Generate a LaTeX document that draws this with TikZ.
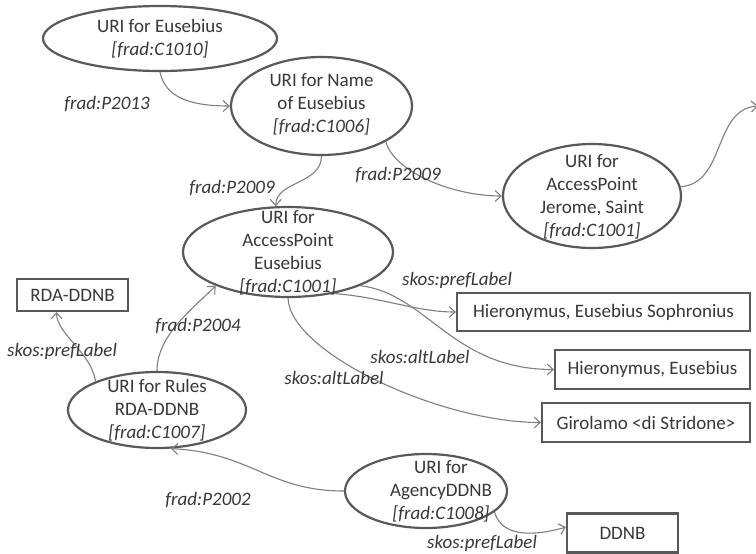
\documentclass[tikz,border=0pt]{standalone}
\usepackage{fontspec}
\setmainfont{Carlito}
\usetikzlibrary{shapes.geometric,arrows.meta}
\definecolor{txtc}{HTML}{383838}
\definecolor{brdc}{HTML}{595959}
\definecolor{conc}{HTML}{7F7F7F}
\begin{document}
\begin{tikzpicture}[x=1pt,y=-1pt,
  ell/.style={draw=brdc, line width=2.2pt, ellipse, inner sep=0pt},
  box/.style={draw=brdc, line width=2.2pt, rectangle, inner sep=0pt, text=txtc, font=\fontsize{19}{23}\selectfont},
  lbl/.style={text=txtc, font=\fontsize{19}{23}\selectfont, align=center, inner sep=0pt},
  rel/.style={text=txtc, font=\fontsize{19}{23}\selectfont\itshape, inner sep=0pt},
  link/.style={draw=conc, line width=1.1pt, -{Straight Barb[length=6pt,width=11pt]}}]
\fill[white] (0,0) rectangle (756,554);
\useasboundingbox (0,0) rectangle (756,554);

% ellipses
\node[ell, minimum width=234pt, minimum height=65pt] (e1) at (160,38.5) {};
\node[lbl] (t1) at (160,39) {URI for Eusebius\\\textit{[frad:C1010]}};
\node[ell, minimum width=181pt, minimum height=98pt] (e2) at (321.5,106) {};
\node[lbl] (t2) at (321.5,104) {URI for Name\\of Eusebius\\\textit{[frad:C1006]}};
\node[ell, minimum width=178pt, minimum height=104pt] (e3) at (592,196) {};
\node[lbl] (t3) at (592,197) {URI for\\AccessPoint\\Jerome, Saint\\\textit{[frad:C1001]}};
\node[ell, minimum width=210pt, minimum height=90pt] (e4) at (288,252) {};
\node[lbl] (t4) at (288,253) {URI for\\AccessPoint\\Eusebius\\\textit{[frad:C1001]}};
\node[ell, minimum width=178pt, minimum height=76pt] (e5) at (157,410) {};
\node[lbl] (t5) at (157,410) {URI for Rules\\RDA-DDNB\\\textit{[frad:C1007]}};
\node[ell, minimum width=162pt, minimum height=74pt] (e6) at (426,491) {};
\node[lbl] (t6) at (441,491) {URI for\\AgencyDDNB\\\textit{[frad:C1008]}};

% boxes
\node[box, minimum width=111pt, minimum height=32pt] (r1) at (72.5,295) {RDA-DDNB};
\node[box, minimum width=293pt, minimum height=38pt] (h1) at (603.5,312) {Hieronymus, Eusebius Sophronius};
\node[box, minimum width=195pt, minimum height=39pt] (h2) at (652.5,369.5) {Hieronymus, Eusebius};
\node[box, minimum width=208pt, minimum height=39pt] (g1) at (646,422.5) {Girolamo <di Stridone>};
\node[box, minimum width=111pt, minimum height=39pt] (d1) at (622.5,533) {DDNB};
\coordinate (out) at (758,106);

% connectors
\draw[link] (e1.south) .. controls +(5,25) and +(-40,0) .. (e2.west);
\draw[link] (e2.south) .. controls +(0,28) and +(0,-25) .. (e4.105);
\draw[link] (e2.-29) .. controls +(8,30) and +(-50,0) .. (e3.west);
\draw[link] (e3.6) .. controls +(45,-3) and +(-45,3) .. (out);
\draw[link] (e4.-42) .. controls +(50,4) and +(-40,0) .. (h1.west);
\draw[link] (e4.-25) .. controls +(67,8) and +(-102,0) .. (h2.west);
\draw[link] (e4.south) .. controls +(2,55) and +(-100,0) .. (g1.west);
\draw[link] (e5.155) .. controls +(-5,-30) and +(0,22) .. (r1.-133);
\draw[link] (e5.north) .. controls +(0,-35) and +(-25,25) .. (e4.-155);
\draw[link] (e6.west) .. controls +(-75,0) and +(80,4) .. (e5.-70);
\draw[link] (e6.-17) .. controls +(8,30) and +(-20,6) .. (d1.174);

% labels
\node[rel] (l1) at (107,104) {frad:P2013};
\node[rel] (l2) at (232,188) {frad:P2009};
\node[rel] (l3) at (398,175) {frad:P2009};
\node[rel] (l4) at (457,280) {skos:prefLabel};
\node[rel] (l5) at (420,357) {skos:altLabel};
\node[rel] (l6) at (334,378) {skos:altLabel};
\node[rel] (l7) at (62,351) {skos:prefLabel};
\node[rel] (l8) at (198,326) {frad:P2004};
\node[rel] (l9) at (208,500) {frad:P2002};
\node[rel] (l10) at (482,543) {skos:prefLabel};
\end{tikzpicture}
\end{document}
